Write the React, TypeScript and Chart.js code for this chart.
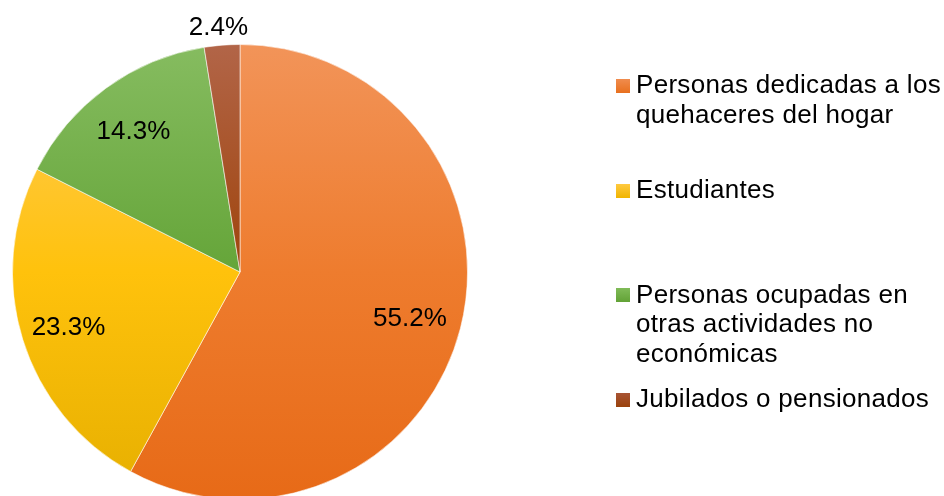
import React, { useEffect, useRef } from "react";
import { Chart, registerables } from "chart.js";

Chart.register(...registerables);

const categories = [
  "Personas dedicadas a los quehaceres del hogar",
  "Estudiantes",
  "Personas ocupadas en otras actividades no económicas",
  "Jubilados o pensionados",
];
const values = [55.2, 23.3, 14.3, 2.4];
const valueLabels = ["55.2%", "23.3%", "14.3%", "2.4%"];
const legendLines = [
  ["Personas dedicadas a los", "quehaceres del hogar"],
  ["Estudiantes"],
  ["Personas ocupadas en", "otras actividades no", "económicas"],
  ["Jubilados o pensionados"],
];

const gradientStops: [number, string][][] = [
  [[0, "#F29459"], [0.5, "#EE7C2E"], [1, "#E76A17"]],
  [[0, "#FFCB5C"], [0.5, "#FFC20C"], [1, "#E6AF00"]],
  [[0, "#86BC60"], [0.5, "#65A539"], [1, "#5A9A2E"]],
  [[0, "#B26548"], [0.5, "#9F440C"], [1, "#953D08"]],
];
const markerColors = [
  ["#F08C4E", "#E8701E"],
  ["#FFC940", "#F0B400"],
  ["#80BB58", "#62A236"],
  ["#A85434", "#9A420C"],
];

const FONT = "'Liberation Sans', Arial, sans-serif";

const labelPlugin = {
  id: "sliceLabels",
  afterDatasetsDraw(chart: any) {
    const { ctx } = chart;
    const meta = chart.getDatasetMeta(0);
    ctx.save();
    ctx.font = `26px ${FONT}`;
    ctx.fillStyle = "#000";
    ctx.textAlign = "center";
    ctx.textBaseline = "middle";
    meta.data.forEach((arc: any, i: number) => {
      const { x, y, startAngle, endAngle, outerRadius } = arc.getProps(
        ["x", "y", "startAngle", "endAngle", "outerRadius"],
        true
      );
      const mid = (startAngle + endAngle) / 2;
      const span = endAngle - startAngle;
      const f = span < 0.3 ? 1.09 : 0.78;
      const r = outerRadius * f;
      ctx.fillText(valueLabels[i], x + Math.cos(mid) * r - 2, y + Math.sin(mid) * r + 3);
    });
    ctx.restore();
  },
};

export default function App() {
  const ref = useRef<HTMLCanvasElement>(null);
  useEffect(() => {
    const canvas = ref.current!;
    const chart = new Chart(canvas, {
      type: "pie",
      data: {
        labels: categories,
        datasets: [
          {
            data: values,
            backgroundColor: (c: any) => {
              const ch = c.chart;
              const area = ch.chartArea;
              const i = c.dataIndex ?? 0;
              if (!area) return gradientStops[i][1][1];
              const g = ch.ctx.createLinearGradient(0, area.top, 0, area.bottom);
              gradientStops[i].forEach(([o, col]) => g.addColorStop(o, col));
              return g;
            },
            borderColor: "rgba(255,255,255,0.55)",
            borderWidth: 1,
          },
        ],
      },
      options: {
        responsive: false,
        animation: false,
        layout: { padding: { left: 12, top: 44, right: 476, bottom: 0 } },
        plugins: {
          legend: { display: false },
          tooltip: { enabled: false },
        },
      },
      plugins: [labelPlugin],
    });
    return () => chart.destroy();
  }, []);

  const tops = [70.2, 175.2, 279.5, 384];

  return (
    <div
      style={{
        position: "absolute",
        left: 0,
        top: 0,
        width: 944,
        height: 496,
        overflow: "hidden",
        background: "#fff",
      }}
    >
      <canvas ref={ref} width={944} height={500} style={{ position: "absolute", left: 0, top: 0 }} />
      {legendLines.map((lines, i) => (
        <div
          key={i}
          style={{
            position: "absolute",
            left: 636,
            top: tops[i],
            fontFamily: FONT,
            fontSize: 26,
            lineHeight: "29.7px",
            letterSpacing: "0.3px",
            color: "#000",
            whiteSpace: "nowrap",
          }}
        >
          <div
            style={{
              position: "absolute",
              left: -20,
              top: 8.5,
              width: 14,
              height: 14,
              background: `linear-gradient(${markerColors[i][0]}, ${markerColors[i][1]})`,
            }}
          />
          {lines.map((l, j) => (
            <div key={j}>{l}</div>
          ))}
        </div>
      ))}
    </div>
  );
}
